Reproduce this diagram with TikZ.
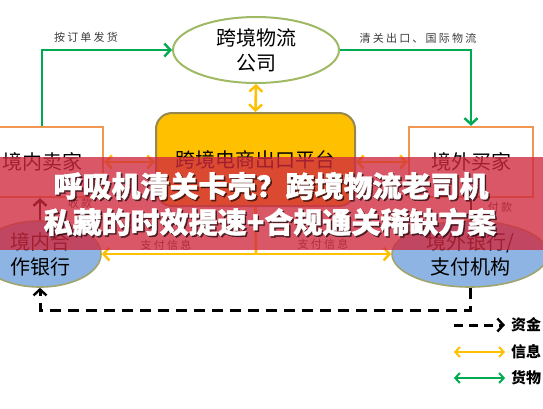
\documentclass[tikz,border=0pt]{standalone}
\usepackage{fontspec}
\setmainfont{Noto Sans CJK SC}
\usetikzlibrary{shapes.geometric,arrows.meta,calc}
\definecolor{gr}{RGB}{0,170,80}
\definecolor{yl}{RGB}{255,192,0}
\definecolor{orline}{RGB}{240,150,80}
\definecolor{olivel}{RGB}{160,185,100}
\definecolor{platline}{RGB}{150,135,80}
\definecolor{bluefill}{RGB}{141,180,226}
\definecolor{bankline}{RGB}{160,165,110}
\definecolor{band}{RGB}{208,40,62}
\definecolor{labelc}{RGB}{60,60,60}
\begin{document}
\begin{tikzpicture}[x=1pt,y=-1pt,
  barb/.tip={Straight Barb[length=6pt,width=13pt,line width=2.4pt]},
  sbarb/.tip={Straight Barb[length=4.5pt,width=10pt,line width=2pt]},
  goods/.style={draw=gr,line width=2.6pt,-barb},
  info/.style={draw=yl,line width=2.6pt,barb-barb},
  infoone/.style={draw=yl,line width=2.6pt,-barb},
  infoline/.style={draw=yl,line width=2.6pt},
  money/.style={draw=black,line width=3pt,dash pattern=on 11pt off 7pt,-barb},
  moneysolid/.style={draw=black,line width=2.6pt,-barb},
  boxnode/.style={draw=orline,line width=2.4pt,fill=white,minimum width=#1,minimum height=70pt,inner sep=0pt,font=\fontsize{20}{25}\selectfont},
  banknode/.style={ellipse,draw=bankline,line width=1.6pt,fill=bluefill,minimum width=#1,minimum height=66pt,inner sep=0pt,align=center,font=\fontsize{20}{25}\selectfont},
  flowlabel/.style={inner sep=0pt,text=labelc,font=\fontsize{11}{13}\selectfont\addfontfeatures{LetterSpace=20}},
  legtext/.style={inner sep=0pt,anchor=west,font=\fontsize{15}{18}\selectfont\bfseries},
  titletext/.style={inner sep=0pt,font=\fontsize{29}{34}\selectfont\bfseries\addfontfeatures{FakeBold=1.2}}
]
\useasboundingbox (0,0) rectangle (543,408);
\clip (0,0) rectangle (543,408);
\fill[white] (0,0) rectangle (543,408);

% nodes
\node[ellipse,draw=olivel,line width=2pt,fill=white,minimum width=166pt,minimum height=66pt,inner sep=0pt,align=center,font=\fontsize{20}{25}\selectfont] (logi) at (256,50) {跨境物流\\公司};
\node[draw=platline,fill=yl,rounded corners=16pt,line width=2pt,minimum width=199pt,minimum height=93pt,inner sep=0pt,text=black,font=\fontsize{20}{25}\selectfont] (plat) at (255.5,159.5) {\raisebox{-3pt}{跨境电商出口平台}};
\node[boxnode=122pt] (lseller) at (42,162) {境内卖家};
\node[boxnode=124pt] (rbuyer) at (471,162) {境外买家};
\node[banknode=122pt] (lbank) at (40,254) {境内合\\作银行};
\node[banknode=156pt] (rbank) at (470,254) {境外银行/\\支付机构};

% goods
\draw[goods] (lseller.north) |- (logi.west);
\draw[goods] (logi.east) -| (rbuyer.north);
\node[flowlabel] (lab1) at (86,37) {按订单发货};
\node[flowlabel] (lab2) at (418,38) {清关出口、国际物流};

% info
\draw[info] (logi.south) -- (plat.north);
\draw[info] (lseller.east) -- (lseller.east -| plat.west);
\draw[info] (plat.east |- rbuyer.west) -- (rbuyer.west);
\coordinate (split) at (256,254);
\draw[infoline] (plat.south) -- (split);
\draw[infoone] (split) -- (lbank.east);
\draw[infoone] (split) -- (rbank.west);
\node[flowlabel] (lab3) at (166,245) {支付信息};
\node[flowlabel] (lab4) at (323,244) {支付信息};

% money
\draw[money] (rbank.south) -- ++(0,23) -| (lbank.south);
\draw[moneysolid] (lbank.north) -- (lbank.north |- lseller.south);
\draw[moneysolid] (rbuyer.south) -- (rbuyer.south |- rbank.north);
\node[flowlabel] (lab5) at (80,203) {收款};
\node[flowlabel] (lab6) at (500,207) {付款};

% legend
\node[legtext] (tmoney) at (511,325) {资金};
\node[legtext] (tinfo) at (511,352) {信息};
\node[legtext] (tgoods) at (511,378) {货物};
\coordinate (lm) at (454,325);
\coordinate (li) at (454,352);
\coordinate (lg) at (454,378);
\draw[draw=black,line width=3pt,dash pattern=on 9pt off 6pt,-barb] (lm) -- ([xshift=-6pt]tmoney.west);
\draw[draw=yl,line width=2pt,sbarb-sbarb] (li) -- ([xshift=-6pt]tinfo.west);
\draw[draw=gr,line width=2pt,sbarb-sbarb] (lg) -- ([xshift=-6pt]tgoods.west);

% title banner
\fill[band,opacity=0.78] (0,157) rectangle (543,250);
\node[titletext,text=black,opacity=0.6] (t1s) at (272.5,187.5) {呼吸机清关卡壳？跨境物流老司机};
\node[titletext,text=black,opacity=0.6] (t2s) at (271.5,223.5) {私藏的时效提速+合规通关稀缺方案};
\node[titletext,text=white] (t1) at (271,186) {呼吸机清关卡壳？跨境物流老司机};
\node[titletext,text=white] (t2) at (270,222) {私藏的时效提速+合规通关稀缺方案};
\end{tikzpicture}
\end{document}
